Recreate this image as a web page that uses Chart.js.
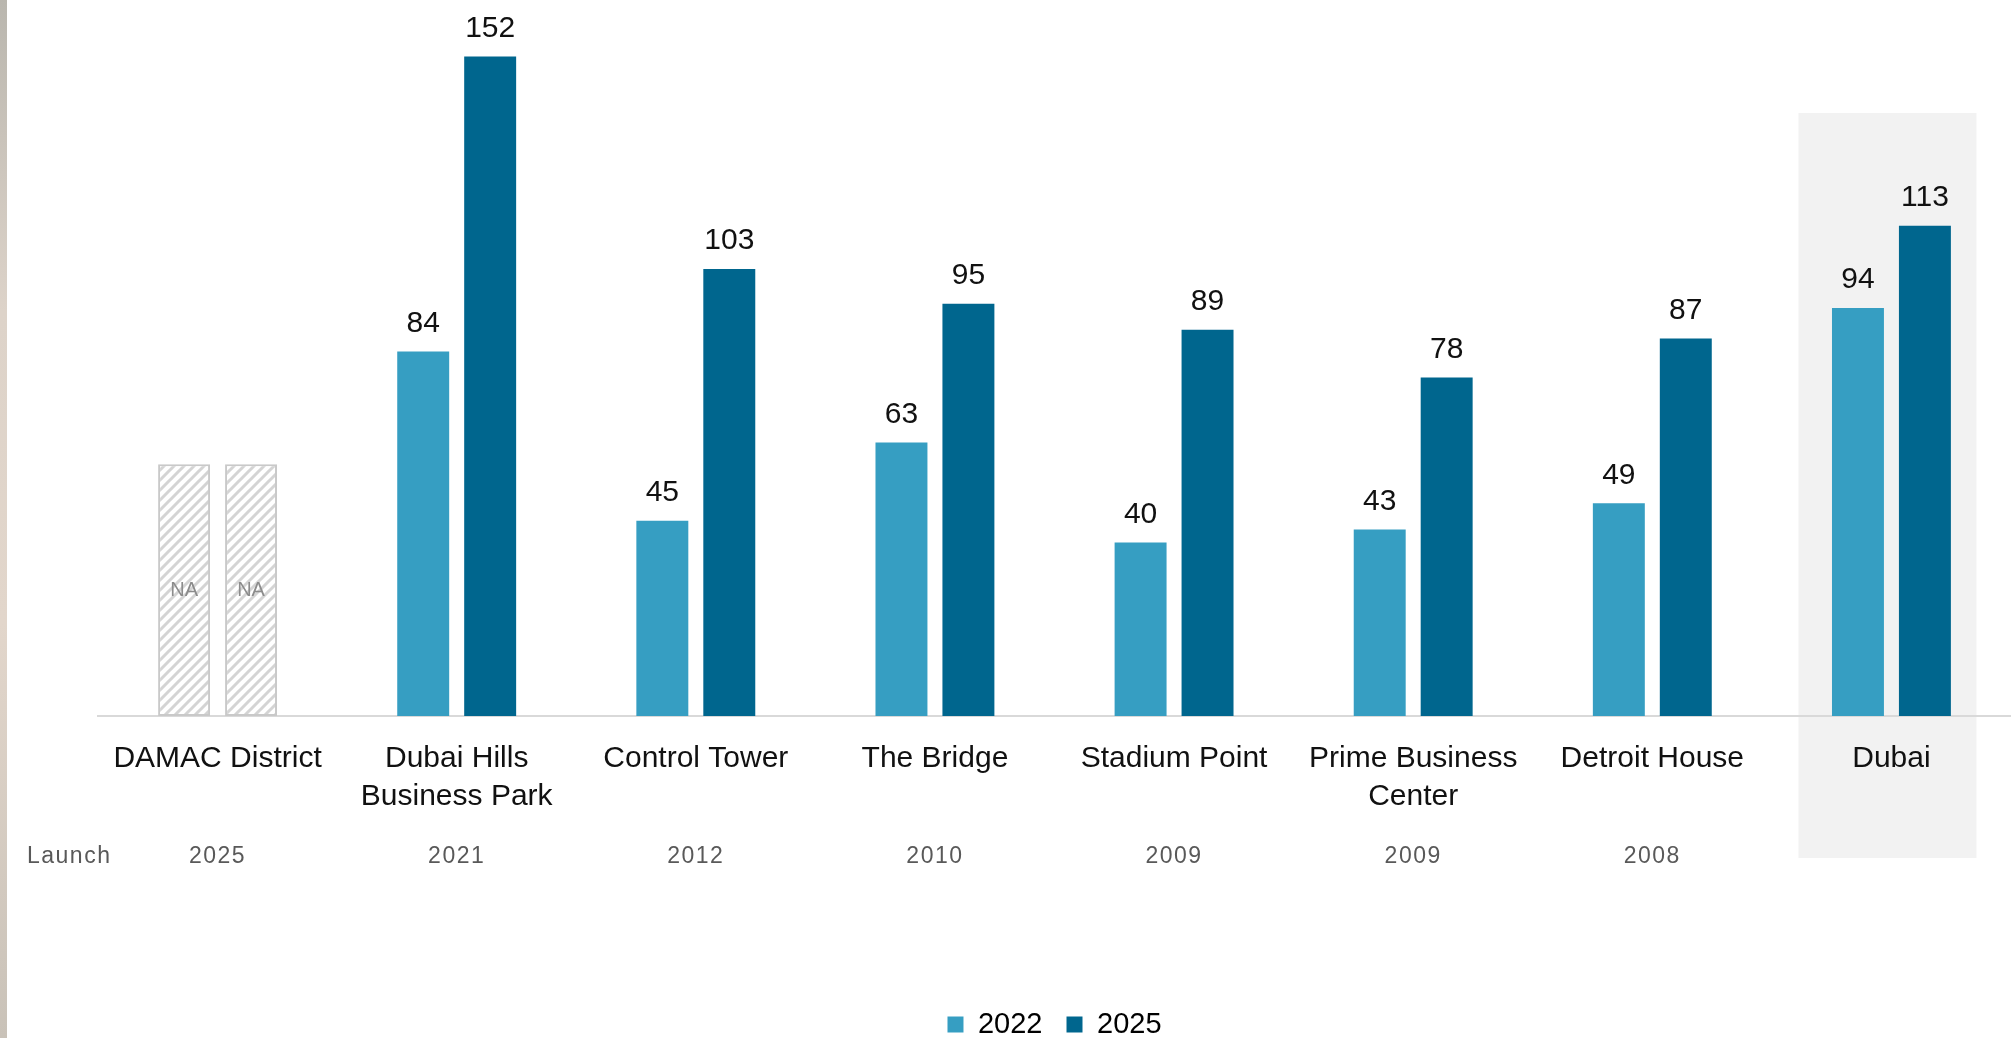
<!DOCTYPE html>
<html lang="en">
<head>
    <meta charset="UTF-8">
    <title>Office rents 2022 vs 2025</title>
    <script src="https://cdn.jsdelivr.net/npm/chart.js@4/dist/chart.umd.min.js"></script>
    <style>
        html, body { margin: 0; padding: 0; background: #ffffff; }
        #wrap { position: relative; width: 2011px; height: 1038px; }
        /* thin photo edge on the far left of the original slide */
        #edge { position: absolute; left: 0; top: 0; width: 7px; height: 1038px;
                background: linear-gradient(#b9b6ae, #ddd3c9 30%, #e2d6cb 60%, #c9c2b8); }
    </style>
</head>
<body>
<div id="wrap">
    <div id="edge"></div>
    <canvas id="myChart"></canvas>
</div>

<script>
// ---- data ----
var categories = [
    ["DAMAC District"],
    ["Dubai Hills", "Business Park"],
    ["Control Tower"],
    ["The Bridge"],
    ["Stadium Point"],
    ["Prime Business", "Center"],
    ["Detroit House"],
    ["Dubai"]
];
var launchYears = ["2025", "2021", "2012", "2010", "2009", "2009", "2008", ""];
var values2022 = [null, 84, 45, 63, 40, 43, 49, 94];
var values2025 = [null, 152, 103, 95, 89, 78, 87, 113];
var seriesNames = ["2022", "2025"];
var seriesColors = ["#369EC2", "#00668E"];
var naBarHeight = 58;      // hatched placeholder where no value exists
var highlightIndex = 7;    // Dubai column sits on a grey panel

var FONT = "'Liberation Sans', Arial, sans-serif";

// diagonal hatch for NA bars
function hatchPattern() {
    var s = 10;
    var c = document.createElement("canvas");
    c.width = s; c.height = s;
    var g = c.getContext("2d");
    g.fillStyle = "#ffffff";
    g.fillRect(0, 0, s, s);
    g.strokeStyle = "#D4D4D4";
    g.lineWidth = 3;
    g.beginPath();
    g.moveTo(0, s); g.lineTo(s, 0);
    g.moveTo(-2, 2); g.lineTo(2, -2);
    g.moveTo(s - 2, s + 2); g.lineTo(s + 2, s - 2);
    g.stroke();
    return g.createPattern(c, "repeat");
}
var hatch = hatchPattern();

function makeDataset(name, values, color) {
    return {
        label: name,
        data: values.map(function (v) { return v === null ? naBarHeight : v; }),
        backgroundColor: values.map(function (v) { return v === null ? hatch : color; }),
        borderColor: values.map(function (v) { return v === null ? "#C9C9C9" : color; }),
        borderWidth: values.map(function (v) { return v === null ? 2 : 0; }),
        borderSkipped: false,
        isNA: values.map(function (v) { return v === null; })
    };
}

// grey panel behind the Dubai column (drawn before the axis line)
var panelPlugin = {
    id: "panel",
    beforeDraw: function (chart) {
        var x = chart.scales.x;
        var ctx = chart.ctx;
        var cx = x.getPixelForValue(highlightIndex) - 4;
        ctx.save();
        ctx.fillStyle = "#F2F2F2";
        ctx.fillRect(cx - 89, 113, 178, 745);
        ctx.restore();
    }
};

// value labels above bars, NA text inside placeholders
var valueLabelPlugin = {
    id: "valueLabels",
    afterDatasetsDraw: function (chart) {
        var ctx = chart.ctx;
        ctx.save();
        ctx.textAlign = "center";
        ctx.textBaseline = "middle";
        chart.data.datasets.forEach(function (ds, di) {
            var meta = chart.getDatasetMeta(di);
            meta.data.forEach(function (bar, i) {
                if (ds.isNA[i]) {
                    ctx.font = "20px " + FONT;
                    ctx.fillStyle = "#8C8C8C";
                    ctx.fillText("NA", bar.x, (bar.y + bar.base) / 2);
                } else {
                    ctx.font = "30px " + FONT;
                    ctx.fillStyle = "#111111";
                    ctx.fillText(String(ds.data[i]), bar.x, bar.y - 28);
                }
            });
        });
        ctx.restore();
    }
};

// launch year row under the category names
var launchPlugin = {
    id: "launchRow",
    afterDraw: function (chart) {
        var x = chart.scales.x;
        var ctx = chart.ctx;
        ctx.save();
        ctx.font = "23px " + FONT;
        ctx.letterSpacing = "1.5px";
        ctx.fillStyle = "#595959";
        ctx.textBaseline = "middle";
        ctx.textAlign = "left";
        ctx.fillText("Launch", 27, 857);
        ctx.textAlign = "center";
        launchYears.forEach(function (yr, i) {
            if (yr) ctx.fillText(yr, x.getPixelForValue(i), 857);
        });
        ctx.restore();
    }
};

var ctx = document.getElementById("myChart").getContext("2d");
var myChart = new Chart(ctx, {
    type: "bar",
    data: {
        labels: categories,
        datasets: [
            makeDataset(seriesNames[0], values2022, seriesColors[0]),
            makeDataset(seriesNames[1], values2025, seriesColors[1])
        ]
    },
    options: {
        responsive: true,
        maintainAspectRatio: false,
        animation: false,
        barPercentage: 0.776,
        categoryPercentage: 0.56,
        layout: { padding: { left: 98, right: 0, top: 0, bottom: -11 } },
        scales: {
            x: {
                grid: { display: false, drawTicks: false },
                border: { display: true, color: "#D9D9D9", width: 2 },
                ticks: {
                    color: "#111111",
                    padding: 24,
                    autoSkip: false,
                    maxRotation: 0,
                    font: { family: FONT, size: 30, lineHeight: "38px" }
                },
                afterFit: function (scale) { scale.height = 270; }
            },
            y: {
                display: false,
                min: 0,
                max: 165
            }
        },
        plugins: {
            tooltip: { enabled: false },
            legend: {
                position: "bottom",
                labels: {
                    color: "#111111",
                    boxWidth: 16,
                    boxHeight: 16,
                    padding: 24,
                    font: { family: FONT, size: 29 },
                    generateLabels: function (chart) {
                        return chart.data.datasets.map(function (ds, i) {
                            return {
                                text: ds.label,
                                fillStyle: seriesColors[i],
                                strokeStyle: seriesColors[i],
                                lineWidth: 0,
                                hidden: false,
                                datasetIndex: i
                            };
                        });
                    }
                }
            }
        }
    },
    plugins: [panelPlugin, valueLabelPlugin, launchPlugin]
});
</script>
</body>
</html>
